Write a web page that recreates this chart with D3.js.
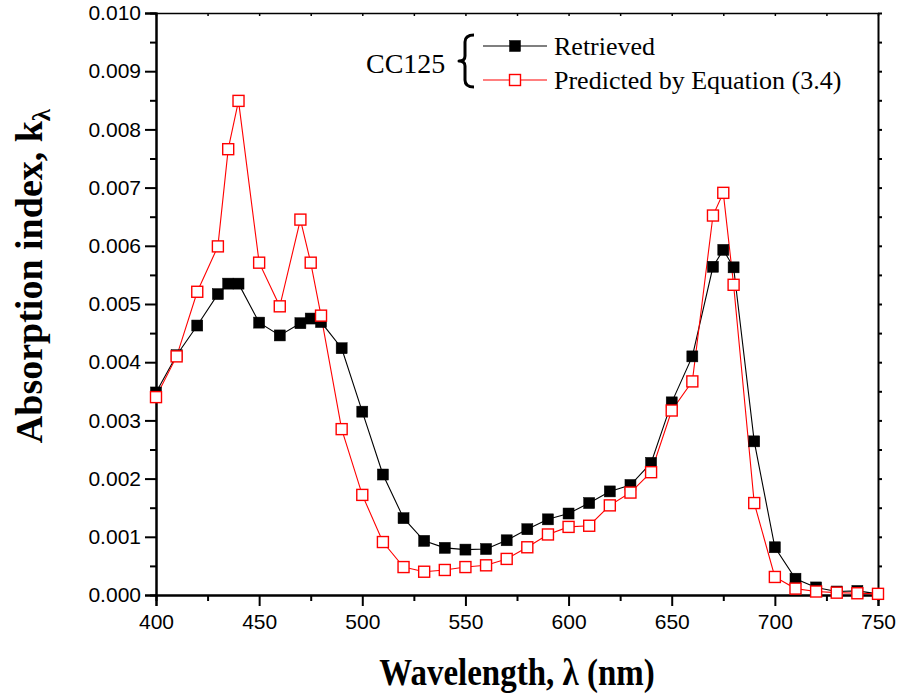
<!DOCTYPE html>
<html>
<head>
<meta charset="utf-8">
<script src="https://cdn.jsdelivr.net/npm/d3@7"></script>
<style>
  body { margin: 0; background: #fff; }
  svg { display: block; }
</style>
</head>
<body>
<svg id="chart" width="902" height="695"></svg>
<script>
const WIDTH = 902;
const HEIGHT = 695;
const MARGIN = { left: 156, right: 24, top: 13, bottom: 100 };

// wavelength (nm) for each sample
const wavelengths = [400, 410, 420, 430, 435, 440, 450, 460, 470, 475, 480, 490, 500, 510, 520, 530, 540,
  550, 560, 570, 580, 590, 600, 610, 620, 630, 640, 650, 660, 670, 675, 680, 690, 700, 710, 720, 730, 740, 750];

const retrieved = [0.00348, 0.00412, 0.00463, 0.00517, 0.00535, 0.00535, 0.00468, 0.00446, 0.00467, 0.00475,
  0.00469, 0.00424, 0.00315, 0.00207, 0.00132, 0.00093, 0.00081, 0.00078, 0.00079, 0.00094, 0.00113, 0.00130,
  0.00140, 0.00158, 0.00178, 0.00189, 0.00227, 0.00331, 0.00410, 0.00564, 0.00593, 0.00563, 0.00264, 0.00082,
  0.00028, 0.00013, 0.00006, 0.00007, 0.00002];

const predicted = [0.00340, 0.00410, 0.00521, 0.00599, 0.00766, 0.00849, 0.00571, 0.00496, 0.00645, 0.00571,
  0.00480, 0.00285, 0.00172, 0.00091, 0.00048, 0.00040, 0.00043, 0.00048, 0.00051, 0.00062, 0.00082, 0.00104,
  0.00117, 0.00119, 0.00154, 0.00176, 0.00211, 0.00317, 0.00367, 0.00652, 0.00691, 0.00533, 0.00158, 0.00031,
  0.00011, 0.00006, 0.00004, 0.00003, 0.00002];

const xTicks = [400, 450, 500, 550, 600, 650, 700, 750];
const xMinorTicks = [425, 475, 525, 575, 625, 675, 725];
const yTicks = [0, 0.001, 0.002, 0.003, 0.004, 0.005, 0.006, 0.007, 0.008, 0.009, 0.010];
const yMinorTicks = [0.0005, 0.0015, 0.0025, 0.0035, 0.0045, 0.0055, 0.0065, 0.0075, 0.0085, 0.0095];

const groupLabel = 'CC125';
const seriesNames = ['Retrieved', 'Predicted by Equation (3.4)'];
const seriesColors = ['#000000', '#ff0000'];

const SANS = "Arial, 'Liberation Sans', sans-serif";
const SERIF = "'Times New Roman', 'Liberation Serif', serif";
const MARK = 11;

let svg = d3.select('#chart');

let xScale = d3.scaleLinear()
  .domain([400, 750])
  .range([MARGIN.left, WIDTH - MARGIN.right]);

let yScale = d3.scaleLinear()
  .domain([0, 0.010])
  .range([HEIGHT - MARGIN.bottom, MARGIN.top]);

function styleAxis(g, width) {
  g.select('.domain').attr('stroke', '#000').attr('stroke-width', width);
  g.selectAll('.tick line').attr('stroke', '#000').attr('stroke-width', width);
  g.selectAll('text').attr('font-family', SANS).attr('font-size', 21).attr('fill', '#000');
}

// minor ticks first, so the major axes sit on top
svg.append('g')
  .attr('transform', `translate(${MARGIN.left},0)`)
  .call(d3.axisLeft(yScale).tickValues(yMinorTicks).tickSize(6).tickFormat(''))
  .call(g => styleAxis(g, 2));

svg.append('g')
  .attr('transform', `translate(0,${HEIGHT - MARGIN.bottom})`)
  .call(d3.axisBottom(xScale).tickValues(xMinorTicks).tickSize(6).tickFormat(''))
  .call(g => styleAxis(g, 2));

svg.append('g')
  .attr('transform', `translate(${MARGIN.left},0)`)
  .call(d3.axisLeft(yScale).tickValues(yTicks).tickSize(11).tickPadding(4).tickFormat(d3.format('.3f')))
  .call(g => styleAxis(g, 2));

svg.append('g')
  .attr('transform', `translate(0,${HEIGHT - MARGIN.bottom})`)
  .call(d3.axisBottom(xScale).tickValues(xTicks).tickSize(11).tickPadding(8))
  .call(g => styleAxis(g, 2));

// top and right frame
svg.append('g')
  .attr('transform', `translate(0,${MARGIN.top})`)
  .call(d3.axisTop(xScale).tickValues(xTicks.concat(xMinorTicks)).tickSizeInner(-3).tickSizeOuter(0).tickFormat(''))
  .call(g => styleAxis(g, 1.5));

svg.append('g')
  .attr('transform', `translate(${WIDTH - MARGIN.right},0)`)
  .call(d3.axisRight(yScale).tickValues(yTicks.concat(yMinorTicks)).tickSizeInner(4).tickSizeOuter(0).tickFormat(''))
  .call(g => styleAxis(g, 2));

// series
const series = [retrieved, predicted];

let lineGenerator = d3.line()
  .x((d, i) => xScale(wavelengths[i]))
  .y(d => yScale(d));

let plot = svg.append('g');

series.forEach((values, s) => {
  plot.append('path')
    .datum(values)
    .attr('fill', 'none')
    .attr('stroke', seriesColors[s])
    .attr('stroke-width', 1.1)
    .attr('d', lineGenerator);
});

series.forEach((values, s) => {
  plot.selectAll('.mark-' + s)
    .data(values)
    .join('rect')
    .attr('class', 'mark-' + s)
    .attr('x', (d, i) => xScale(wavelengths[i]) - MARK / 2)
    .attr('y', d => yScale(d) - MARK / 2)
    .attr('width', MARK)
    .attr('height', MARK)
    .attr('fill', s === 0 ? '#000' : '#fff')
    .attr('stroke', seriesColors[s])
    .attr('stroke-width', s === 0 ? 0.5 : 1.4);
});

// legend
let legend = svg.append('g');

legend.append('text')
  .attr('x', 366).attr('y', 73)
  .attr('font-family', SERIF).attr('font-size', 28)
  .text(groupLabel);

legend.append('path')
  .attr('d', 'M474,35 Q465,35 465,42 L465,56 Q465,61 459,61 Q465,61 465,66 L465,80 Q465,87 474,87')
  .attr('fill', 'none')
  .attr('stroke', '#000')
  .attr('stroke-width', 3)
  .attr('stroke-linejoin', 'round');

const legendRows = [46, 80];
seriesNames.forEach((name, s) => {
  let y = legendRows[s];
  legend.append('line')
    .attr('x1', 483).attr('x2', 547).attr('y1', y).attr('y2', y)
    .attr('stroke', seriesColors[s]).attr('stroke-width', 1.1);
  legend.append('rect')
    .attr('x', 515 - MARK / 2).attr('y', y - MARK / 2)
    .attr('width', MARK).attr('height', MARK)
    .attr('fill', s === 0 ? '#000' : '#fff')
    .attr('stroke', seriesColors[s])
    .attr('stroke-width', s === 0 ? 0.5 : 1.4);
  legend.append('text')
    .attr('x', 554).attr('y', y + 9)
    .attr('font-family', SERIF).attr('font-size', 26)
    .text(name);
});

// axis titles
svg.append('text')
  .attr('transform', 'translate(517,685) scale(1,1.12)')
  .attr('text-anchor', 'middle')
  .attr('font-family', SERIF).attr('font-size', 33).attr('font-weight', 'bold')
  .text('Wavelength, λ (nm)');

let yTitle = svg.append('text')
  .attr('transform', 'translate(42,276) rotate(-90)')
  .attr('text-anchor', 'middle')
  .attr('font-family', SERIF).attr('font-size', 38).attr('font-weight', 'bold');
yTitle.append('tspan').text('Absorption index, k');
yTitle.append('tspan').attr('font-size', 25).attr('dy', 8).text('λ');
</script>
</body>
</html>
